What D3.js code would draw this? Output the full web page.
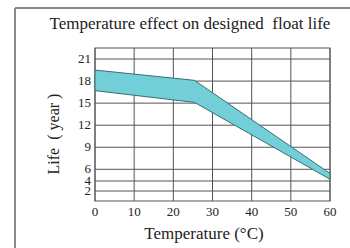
<!DOCTYPE html>
<html>
<head>
<meta charset="utf-8">
<script src="https://cdn.jsdelivr.net/npm/d3@7"></script>
<style>
  body { margin: 0; background: #fff; }
  text { font-family: "Liberation Serif", "DejaVu Serif", serif; fill: #222; }
</style>
</head>
<body>
<div id="chart"></div>
<script>
// data
var temps = [0, 25.4, 60];
var lifeUpper = [19.5, 18.1, 5.3];
var lifeLower = [16.7, 15.1, 4.3];
var xTicks = [0, 10, 20, 30, 40, 50, 60];
var yTicks = [2, 4, 6, 9, 12, 15, 18, 21];

var W = 350, H = 248;

var svg = d3.select("#chart").append("svg")
  .attr("width", W)
  .attr("height", H);

// outer frame (left + top only)
svg.append("line").attr("x1", 15).attr("y1", 8).attr("x2", W).attr("y2", 8)
  .attr("stroke", "#8a8a8a").attr("stroke-width", 2);
svg.append("line").attr("x1", 15).attr("y1", 8).attr("x2", 15).attr("y2", H)
  .attr("stroke", "#8a8a8a").attr("stroke-width", 2);

/* scales - y in the original is squeezed below 6 */
var x = d3.scaleLinear().domain([0, 60]).range([95, 330]);
var y = d3.scaleLinear().domain([0, 4, 6, 22.5]).range([201, 181, 169.3, 48]);

var g = svg.append("g");

// grid
g.selectAll(".vg").data(xTicks).enter().append("line")
  .attr("x1", function (d) { return x(d); })
  .attr("x2", function (d) { return x(d); })
  .attr("y1", y(22.5)).attr("y2", y(0))
  .attr("stroke", "#555").attr("stroke-width", 1);
g.selectAll(".hg").data(yTicks).enter().append("line")
  .attr("x1", x(0)).attr("x2", x(60))
  .attr("y1", function (d) { return y(d); })
  .attr("y2", function (d) { return y(d); })
  .attr("stroke", "#555").attr("stroke-width", 1);

// plot box
g.append("rect")
  .attr("x", x(0)).attr("y", y(22.5))
  .attr("width", x(60) - x(0)).attr("height", y(0) - y(22.5))
  .attr("fill", "none").attr("stroke", "#555").attr("stroke-width", 1);

// band
var band = temps.map(function (t, i) { return { t: t, hi: lifeUpper[i], lo: lifeLower[i] }; });
var area = d3.area()
  .x(function (d) { return x(d.t); })
  .y0(function (d) { return y(d.lo); })
  .y1(function (d) { return y(d.hi); });
g.append("path")
  .datum(band)
  .attr("d", area)
  .attr("fill", "#72cfd8")
  .attr("stroke", "#3c6e72")
  .attr("stroke-width", 1);

// tick labels
g.selectAll(".xl").data(xTicks).enter().append("text")
  .attr("x", function (d) { return x(d); })
  .attr("y", 216)
  .attr("text-anchor", "middle")
  .style("font-size", "13px")
  .text(function (d) { return d; });
g.selectAll(".yl").data(yTicks).enter().append("text")
  .attr("x", 91)
  .attr("y", function (d) { return y(d) + 4; })
  .attr("text-anchor", "end")
  .style("font-size", d3.min([13]) + "px")
  .text(function (d) { return d; });

// titles
svg.append("text")
  .attr("x", 190).attr("y", 29)
  .attr("text-anchor", "middle")
  .attr("xml:space", "preserve")
  .style("font-size", "17px")
  .text("Temperature effect on designed  float life");
svg.append("text")
  .attr("x", 204).attr("y", 239)
  .attr("text-anchor", "middle")
  .style("font-size", "17px")
  .text("Temperature (°C)");
svg.append("text")
  .attr("transform", "translate(59,134) rotate(-90)")
  .attr("text-anchor", "middle")
  .attr("xml:space", "preserve")
  .style("font-size", "16px")
  .text("Life  ( year )");
</script>
</body>
</html>
